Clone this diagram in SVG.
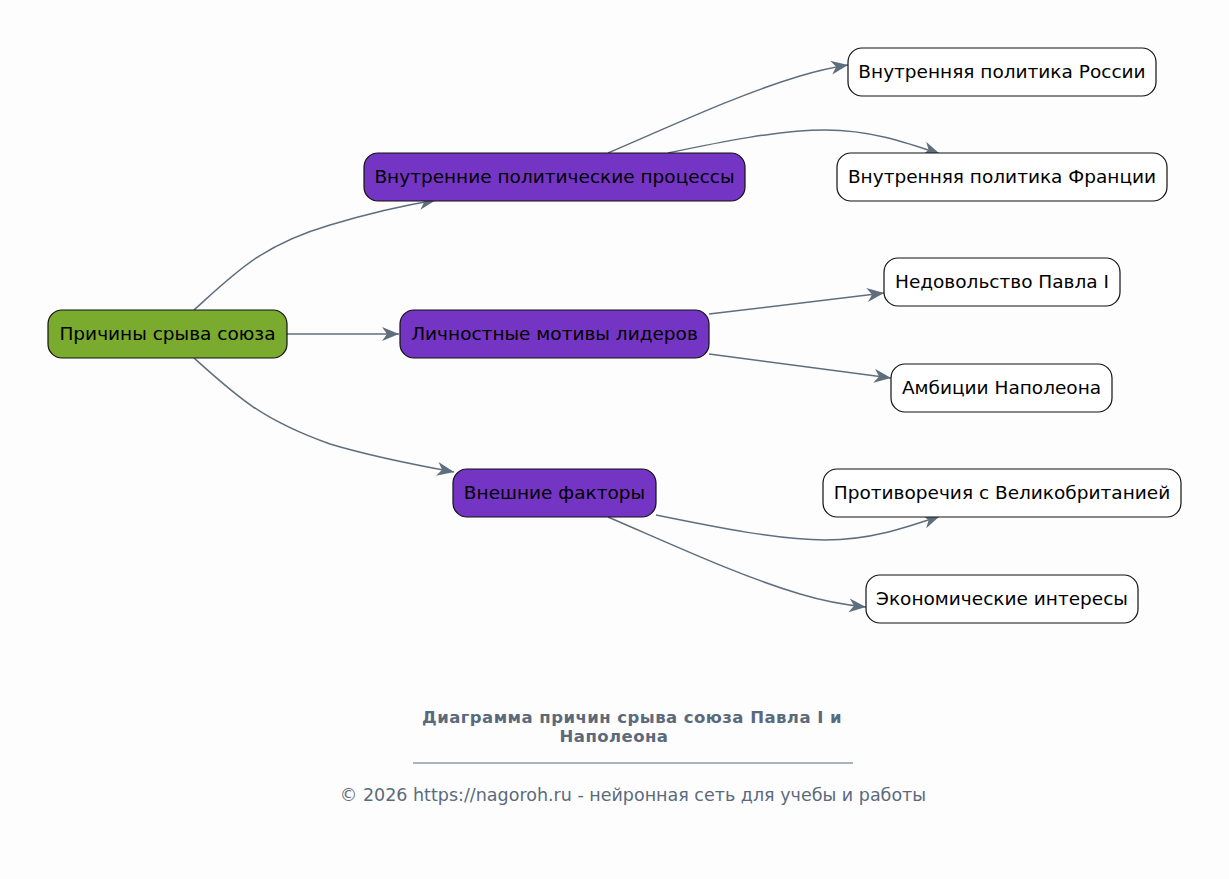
<svg xmlns="http://www.w3.org/2000/svg" width="1229" height="879" viewBox="0 0 1229 879">
<defs>
<marker id="arr" markerUnits="userSpaceOnUse" markerWidth="20" markerHeight="16" refX="17" refY="7" orient="auto">
<path d="M0,0 L17,7 L0,14 L5,7 z" fill="#5f6e7d"/>
</marker>
<style>
.n rect{stroke:#111;stroke-width:1.2}
.root rect{fill:#7aaa2e}
.mid rect{fill:#7535c4}
.leaf rect{fill:#ffffff}
text{font-family:"DejaVu Sans","Noto Sans",sans-serif;font-size:18.5px;fill:#000;text-anchor:middle;dominant-baseline:central}
.e path{fill:none;stroke:#5f6e7d;stroke-width:1.5;marker-end:url(#arr)}
.ft{fill:#5a6a7c}
.tt{font-weight:bold;font-size:16.5px;letter-spacing:0.45px}
.cp{font-size:17.5px}
</style>
</defs>
<rect x="0" y="0" width="1229" height="879" fill="#fdfdfd"/>
<g id="connectors" class="e">
<path d="M194,310 C236,272 262,245 330,225 C370,213 400,206 436,200"/>
<path d="M287,334 L399,334"/>
<path d="M194,358 C236,396 262,420 330,444 C370,456 410,464 454,472"/>
<path d="M608,153 C680,122 740,94 800,76 C820,70 835,67 848,65"/>
<path d="M668,153 C720,142 780,130 825,130 C870,130 905,142 940,154"/>
<path d="M709,314 L884,293"/>
<path d="M709,354 L891,378"/>
<path d="M656,515 C720,528 780,540 825,540 C870,540 905,528 940,516"/>
<path d="M608,517 C680,548 740,576 800,594 C820,600 845,605 866,607"/>
</g>
<g id="n-root" class="n root"><rect x="48" y="310" width="239" height="48" rx="14"/><text x="167.5" y="333.5">Причины срыва союза</text></g>
<g id="n-internal" class="n mid"><rect x="364" y="153" width="381" height="48" rx="14"/><text x="554.5" y="176.5">Внутренние политические процессы</text></g>
<g id="n-personal" class="n mid"><rect x="400" y="310" width="309" height="48" rx="14"/><text x="554.5" y="333.5">Личностные мотивы лидеров</text></g>
<g id="n-external" class="n mid"><rect x="453" y="469" width="203" height="48" rx="14"/><text x="554.5" y="492.5">Внешние факторы</text></g>
<g id="n-russia" class="n leaf"><rect x="848" y="48" width="308" height="48" rx="14"/><text x="1002" y="71.5">Внутренняя политика России</text></g>
<g id="n-france" class="n leaf"><rect x="837" y="153" width="330" height="48" rx="14"/><text x="1002" y="176.5">Внутренняя политика Франции</text></g>
<g id="n-paul" class="n leaf"><rect x="884" y="258" width="236" height="48" rx="14"/><text x="1002" y="281.5">Недовольство Павла I</text></g>
<g id="n-napoleon" class="n leaf"><rect x="891" y="364" width="221" height="48" rx="14"/><text x="1001.5" y="387.5">Амбиции Наполеона</text></g>
<g id="n-britain" class="n leaf"><rect x="823" y="469" width="358" height="48" rx="14"/><text x="1002" y="492.5">Противоречия с Великобританией</text></g>
<g id="n-economy" class="n leaf"><rect x="866" y="575" width="272" height="48" rx="14"/><text x="1002" y="598.5">Экономические интересы</text></g>
<g id="footer">
<text class="ft tt" x="632" y="717">Диаграмма причин срыва союза Павла I и</text>
<text class="ft tt" x="614" y="736">Наполеона</text>
<line x1="413" y1="763" x2="853" y2="763" stroke="#5a6a7c" stroke-width="1"/>
<text class="ft cp" x="633" y="795">© 2026 https://nagoroh.ru - нейронная сеть для учебы и работы</text>
</g>
</svg>
